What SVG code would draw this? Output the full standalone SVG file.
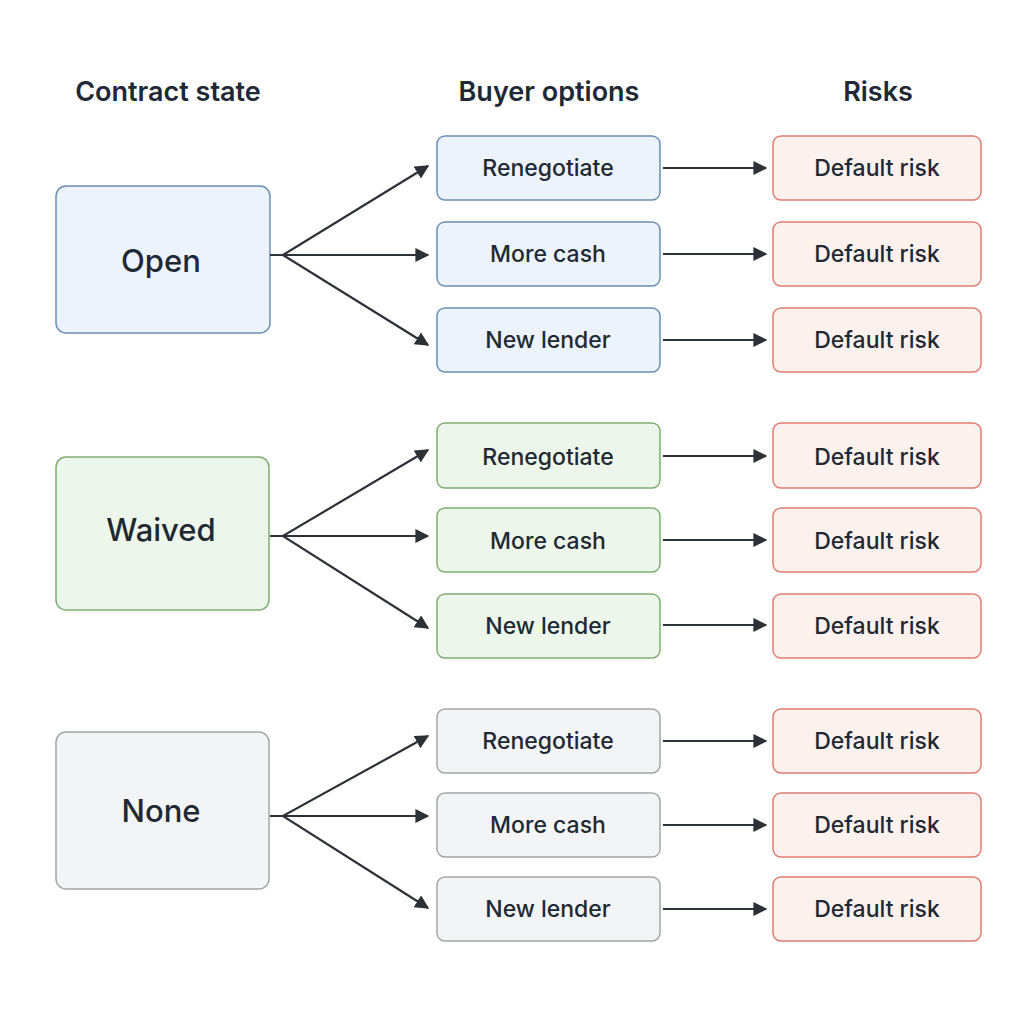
<svg xmlns="http://www.w3.org/2000/svg" width="1024" height="1024" viewBox="0 0 1024 1024">
<style>
text{font-family:Inter,"Liberation Sans",sans-serif;fill:#1f2933;text-anchor:middle;dominant-baseline:central}
.h{font-size:27px;font-weight:600}
.big{font-size:31px;font-weight:500}
.s{font-size:23px;font-weight:500}
.b{fill:#edf3fb;stroke:#6b8fb3;stroke-width:1.5}
.g{fill:#edf6ea;stroke:#7fae72;stroke-width:1.5}
.n{fill:#f3f4f5;stroke:#a3a6a9;stroke-width:1.5}
.r{fill:#fdf1ee;stroke:#df7d70;stroke-width:1.5}
.c path{fill:none;stroke:#2b3137;stroke-width:2.2;marker-end:url(#m)}
</style>
<defs>
<marker id="m" viewBox="0 0 10 10" refX="9" refY="5" markerWidth="14" markerHeight="14" markerUnits="userSpaceOnUse" orient="auto"><path d="M0,0L10,5L0,10z" fill="#2b3137"/></marker></defs>
<text class="h" x="168" y="91">Contract state</text>
<text class="h" x="549" y="91">Buyer options</text>
<text class="h" x="878" y="91">Risks</text>
<g id="open"><rect class="b" x="56" y="186" width="214" height="147" rx="10"/><text class="big" x="161" y="260">Open</text></g>
<g id="waived"><rect class="g" x="56" y="457" width="213" height="153" rx="10"/><text class="big" x="161" y="529">Waived</text></g>
<g id="none"><rect class="n" x="56" y="732" width="213" height="157" rx="10"/><text class="big" x="161" y="810">None</text></g>
<g id="o1"><rect class="b" x="437" y="136" width="223" height="64" rx="8"/><text class="s" x="548" y="168">Renegotiate</text></g>
<g id="o2"><rect class="b" x="437" y="222" width="223" height="64" rx="8"/><text class="s" x="548" y="254">More cash</text></g>
<g id="o3"><rect class="b" x="437" y="308" width="223" height="64" rx="8"/><text class="s" x="548" y="340">New lender</text></g>
<g id="w1"><rect class="g" x="437" y="423" width="223" height="65" rx="8"/><text class="s" x="548" y="457">Renegotiate</text></g>
<g id="w2"><rect class="g" x="437" y="508" width="223" height="64" rx="8"/><text class="s" x="548" y="541">More cash</text></g>
<g id="w3"><rect class="g" x="437" y="594" width="223" height="64" rx="8"/><text class="s" x="548" y="626">New lender</text></g>
<g id="n1"><rect class="n" x="437" y="709" width="223" height="64" rx="8"/><text class="s" x="548" y="741">Renegotiate</text></g>
<g id="n2"><rect class="n" x="437" y="793" width="223" height="64" rx="8"/><text class="s" x="548" y="825">More cash</text></g>
<g id="n3"><rect class="n" x="437" y="877" width="223" height="64" rx="8"/><text class="s" x="548" y="909">New lender</text></g>
<g id="r1"><rect class="r" x="773" y="136" width="208" height="64" rx="8"/><text class="s" x="877" y="168">Default risk</text></g>
<g id="r2"><rect class="r" x="773" y="222" width="208" height="64" rx="8"/><text class="s" x="877" y="254">Default risk</text></g>
<g id="r3"><rect class="r" x="773" y="308" width="208" height="64" rx="8"/><text class="s" x="877" y="340">Default risk</text></g>
<g id="r4"><rect class="r" x="773" y="423" width="208" height="65" rx="8"/><text class="s" x="877" y="457">Default risk</text></g>
<g id="r5"><rect class="r" x="773" y="508" width="208" height="64" rx="8"/><text class="s" x="877" y="541">Default risk</text></g>
<g id="r6"><rect class="r" x="773" y="594" width="208" height="64" rx="8"/><text class="s" x="877" y="626">Default risk</text></g>
<g id="r7"><rect class="r" x="773" y="709" width="208" height="64" rx="8"/><text class="s" x="877" y="741">Default risk</text></g>
<g id="r8"><rect class="r" x="773" y="793" width="208" height="64" rx="8"/><text class="s" x="877" y="825">Default risk</text></g>
<g id="r9"><rect class="r" x="773" y="877" width="208" height="64" rx="8"/><text class="s" x="877" y="909">Default risk</text></g>
<g class="c" id="connectors">
<path d="M270,255H283L428,166"/><path d="M270,255H428"/><path d="M270,255H283L428,345"/>
<path d="M270,536H283L428,450"/><path d="M270,536H428"/><path d="M270,536H283L428,628"/>
<path d="M270,816H283L428,736"/><path d="M270,816H428"/><path d="M270,816H283L428,908"/>
<path d="M663,168H766"/><path d="M663,254H766"/><path d="M663,340H766"/>
<path d="M663,456H766"/><path d="M663,540H766"/><path d="M663,625H766"/>
<path d="M663,741H766"/><path d="M663,825H766"/><path d="M663,909H766"/>
</g>
</svg>
